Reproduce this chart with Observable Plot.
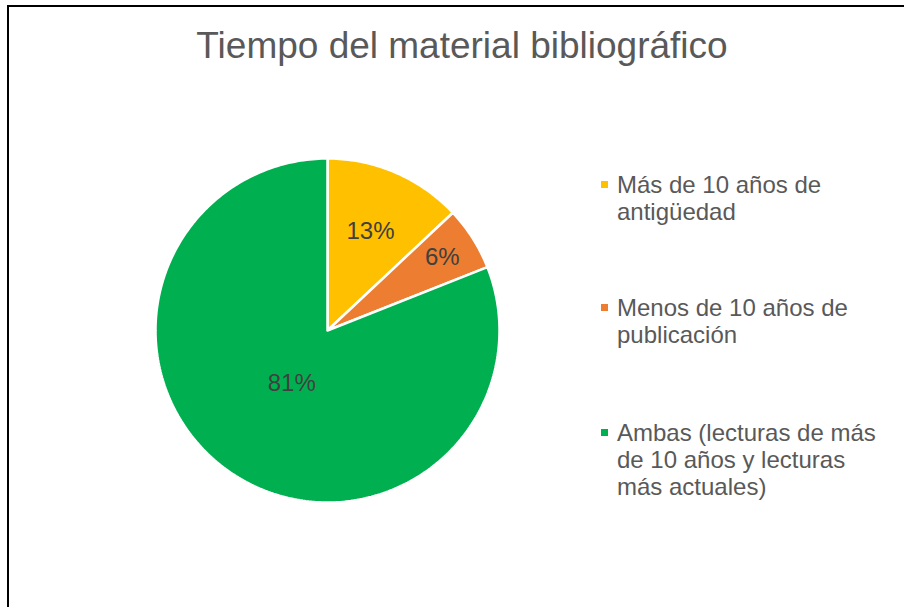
<!DOCTYPE html>
<html>
<head>
<meta charset="utf-8">
<script src="https://cdn.jsdelivr.net/npm/d3@7"></script>
<script src="https://cdn.jsdelivr.net/npm/@observablehq/plot@0.6"></script>
<style>
  html, body { margin: 0; padding: 0; background: #fff; overflow: hidden; }
  #page { position: relative; width: 904px; height: 607px; overflow: hidden; background: #fff; font-family: "Liberation Sans", Arial, sans-serif; }
  #frame { position: absolute; left: 7px; top: 5px; width: 1000px; height: 700px; border: 2px solid #000; box-sizing: border-box; }
  #title { position: absolute; left: 0; width: 924px; top: 25px; text-align: center; font-size: 37px; color: #595959; white-space: nowrap; }
  #chart { position: absolute; left: 0; top: 0; }
  #legend { position: absolute; left: 601px; top: 0; font-size: 24px; color: #595959; line-height: 27px; }
  .item { position: absolute; left: 0; width: 300px; padding-left: 16px; white-space: nowrap; }
  .sw { position: absolute; left: 0; top: 10px; width: 7px; height: 7px; }
</style>
</head>
<body>
<div id="page">
  <div id="frame"></div>
  <div id="chart"></div>
  <div id="title"></div>
  <div id="legend"></div>
</div>
<script>
// ---- data ----
const titleText = "Tiempo del material bibliográfico";
const categories = [
  "Más de 10 años de antigüedad",
  "Menos de 10 años de publicación",
  "Ambas (lecturas de más de 10 años y lecturas más actuales)"
];
const legendLines = [
  ["Más de 10 años de", "antigüedad"],
  ["Menos de 10 años de", "publicación"],
  ["Ambas (lecturas de más", "de 10 años y lecturas", "más actuales)"]
];
const values = [13, 6, 81];
const labels = ["13%", "6%", "81%"];
const colors = ["#FFC000", "#ED7D31", "#00B050"];

// ---- layout ----
const W = 904, H = 607;
const cx = 327, cy = 330, R = 172;
const labelRadius = [0.63, 0.79, 0.37];
const legendTops = [171, 294, 419];

// build slice polygons in unit-circle coordinates
const total = d3.sum(values);
const polys = [];
const labelPts = [];
let acc = 0;
values.forEach((v, i) => {
  const a0 = acc / total * 2 * Math.PI;
  acc += v;
  const a1 = acc / total * 2 * Math.PI;
  const n = Math.max(2, Math.ceil((a1 - a0) / (2 * Math.PI) * 360));
  polys.push({cat: categories[i], x: 0, y: 0});
  for (let k = 0; k <= n; k++) {
    const a = a0 + (a1 - a0) * k / n;
    polys.push({cat: categories[i], x: Math.sin(a), y: Math.cos(a)});
  }
  polys.push({cat: categories[i], x: 0, y: 0});
  const am = (a0 + a1) / 2;
  labelPts.push({label: labels[i], x: labelRadius[i] * Math.sin(am), y: labelRadius[i] * Math.cos(am)});
});

const chart = Plot.plot({
  width: W,
  height: H,
  margin: 0,
  x: {domain: [(0 - cx) / R, (W - cx) / R], axis: null},
  y: {domain: [(cy - H) / R, cy / R], axis: null},
  color: {domain: categories, range: colors},
  marks: [
    Plot.line(polys, {x: "x", y: "y", z: "cat", fill: "cat", stroke: "white", strokeWidth: 2.5, strokeLinejoin: "miter", curve: "linear"}),
    Plot.text(labelPts, {x: "x", y: "y", text: "label", fill: "#404040", fontSize: 24, fontFamily: "Liberation Sans, Arial, sans-serif"})
  ],
  style: {background: "transparent", overflow: "visible"}
});
document.getElementById("chart").appendChild(chart);

document.getElementById("title").textContent = titleText;

const legend = document.getElementById("legend");
legendLines.forEach((lines, i) => {
  const item = document.createElement("div");
  item.className = "item";
  item.style.top = legendTops[i] + "px";
  const sw = document.createElement("div");
  sw.className = "sw";
  sw.style.background = colors[i];
  item.appendChild(sw);
  item.insertAdjacentHTML("beforeend", lines.join("<br>"));
  legend.appendChild(item);
});
</script>
</body>
</html>
